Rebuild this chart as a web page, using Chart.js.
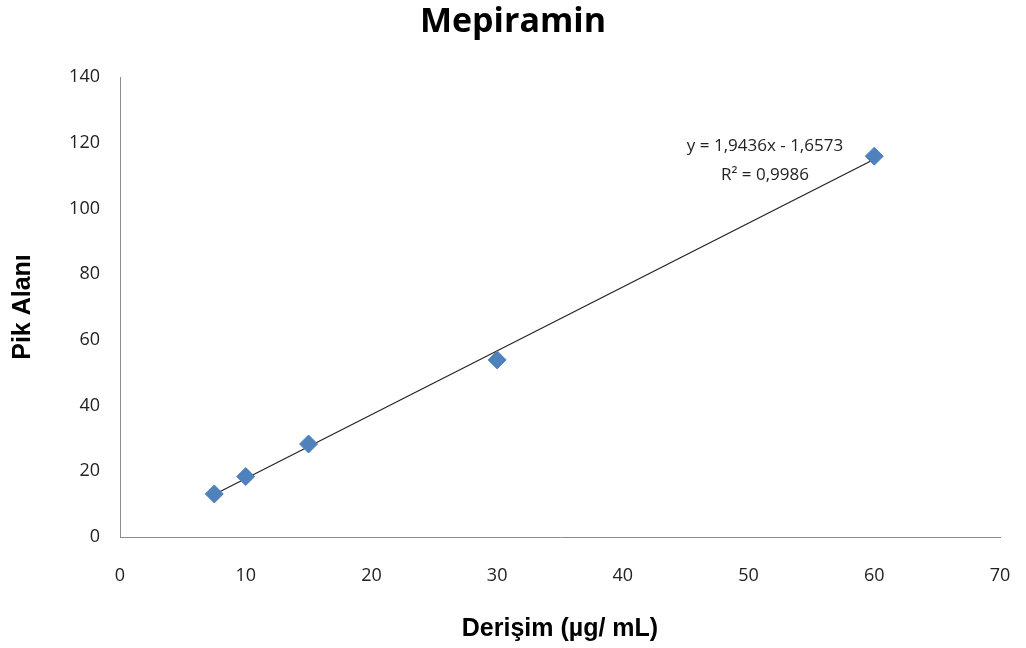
<!DOCTYPE html>
<html>
<head>
<meta charset="utf-8">
<style>
  html, body { margin: 0; padding: 0; background: #fff; }
</style>
<script src="https://cdn.jsdelivr.net/npm/chart.js@4/dist/chart.umd.min.js"></script>
</head>
<body>
<canvas id="CanvasMepiramin" width="1026" height="648"></canvas>
<script>
// data
var concentrations = [7.5, 10, 15, 30, 60];
var peakAreas = [13.1, 18.4, 28.3, 53.9, 115.9];
var xTicks = [0, 10, 20, 30, 40, 50, 60, 70];
var yTicks = [0, 20, 40, 60, 80, 100, 120, 140];

// trendline as printed on the chart
var slope = 1.9436;
var intercept = -1.6573;
var trendRange = [7.5, 60];

var trendPoints = [];
trendRange.forEach(function (x) {
	trendPoints.push({ x: x, y: slope * x + intercept });
});

var scatterPoints = [];
concentrations.forEach(function (x, i) {
	scatterPoints.push({ x: x, y: peakAreas[i] });
});

// chart title centred on the page, plus the equation label next to the last point
const textLabels = {
	id: 'textLabels',
	afterDatasetsDraw(chart) {
		const ctx = chart.ctx;
		ctx.save();
		ctx.textAlign = 'center';
		ctx.textBaseline = 'middle';

		ctx.fillStyle = '#000';
		ctx.font = 'bold 34px "Open Sans", "Liberation Sans", sans-serif';
		ctx.fillText('Mepiramin', chart.width / 2, 22);

		ctx.fillStyle = '#222';
		ctx.font = '17px "Open Sans", "Liberation Sans", sans-serif';
		const cx = chart.chartArea.left + 645;
		const top = chart.chartArea.top;
		ctx.fillText('y = 1,9436x - 1,6573', cx, top + 69);
		ctx.fillText('R² = 0,9986', cx, top + 98);
		ctx.restore();
	}
};

const context = document.getElementById('CanvasMepiramin');
const myChart = new Chart(context, {
	type: 'scatter',
	data: {
		datasets: [
			{
				label: 'Trend',
				type: 'line',
				data: trendPoints,
				borderColor: '#222',
				borderWidth: 1.2,
				pointRadius: 0,
				fill: false,
				order: 2
			},
			{
				label: 'Mepiramin',
				data: scatterPoints,
				pointStyle: 'rectRot',
				pointRadius: 9,
				backgroundColor: '#4f81bd',
				borderColor: '#4f81bd',
				borderWidth: 1,
				order: 1
			}
		]
	},
	options: {
		responsive: false,
		animation: false,
		layout: { padding: { left: 4, right: 26, top: 77, bottom: 0 } },
		plugins: {
			legend: { display: false },
			tooltip: { enabled: false },
			title: { display: false }
		},
		scales: {
			x: {
				type: 'linear',
				min: 0,
				max: 70,
				afterBuildTicks: function (axis) { axis.ticks = xTicks.map(function (v) { return { value: v }; }); },
				afterFit: function (axis) {
					axis.height = 111;
					axis.paddingRight = 0;
					axis.paddingLeft = 0;
				},
				grid: { display: false, drawTicks: false },
				border: { color: '#8c8c8c', width: 1 },
				ticks: {
					color: '#222',
					padding: 28,
					font: { family: '"Open Sans", "Liberation Sans", sans-serif', size: 18 }
				},
				title: {
					display: true,
					text: 'Derişim (µg/ mL)',
					color: '#000',
					font: { family: '"Liberation Sans", Arial, sans-serif', size: 25, weight: 'bold' },
					padding: { top: 13 }
				}
			},
			y: {
				type: 'linear',
				min: 0,
				max: 140,
				afterBuildTicks: function (axis) { axis.ticks = yTicks.map(function (v) { return { value: v }; }); },
				afterFit: function (axis) {
					axis.width = 116;
					axis.paddingTop = 0;
					axis.paddingBottom = 0;
				},
				grid: { display: false, drawTicks: false },
				border: { color: '#8c8c8c', width: 1 },
				ticks: {
					color: '#222',
					padding: 20,
					font: { family: '"Open Sans", "Liberation Sans", sans-serif', size: 18 }
				},
				title: {
					display: true,
					text: 'Pik Alanı',
					color: '#000',
					font: { family: '"Liberation Sans", Arial, sans-serif', size: 25, weight: 'bold' },
					padding: { bottom: 14 }
				}
			}
		}
	},
	plugins: [textLabels]
});
</script>
</body>
</html>
